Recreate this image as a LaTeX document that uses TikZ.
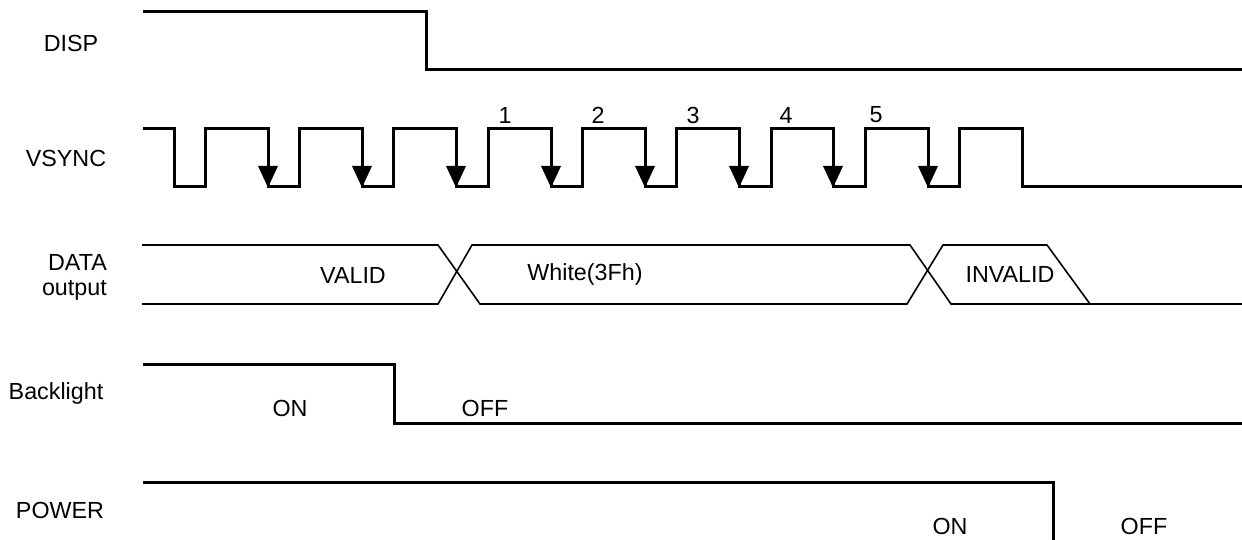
\documentclass[tikz,border=0pt]{standalone}
\usepackage{fontspec}
\setmainfont{Liberation Sans}
\begin{document}
\begin{tikzpicture}[x=1pt,y=-1pt,
  sig/.style={line width=3pt,line join=miter},
  bus/.style={line width=1.6pt,line join=miter},
  lbl/.style={font=\fontsize{23.3}{27}\selectfont,inner sep=0pt},
  arr/.style={fill=black}]
\useasboundingbox (0,0) rectangle (1242,540);
% labels
\node[lbl] (lDISP) at (71,43) {DISP};
\node[lbl] (lVSYNC) at (66,158) {VSYNC};
\node[lbl,anchor=east] (lDATA) at (107,262) {DATA};
\node[lbl,anchor=east] (lOUT) at (107,290) {output};
\node[lbl] (lBL) at (56,393) {Backlight};
\node[lbl] (lPOW) at (60,510) {POWER};
% DISP
\draw[sig] (143,11.5) -| (426,70) -- (1242,70);
% VSYNC
\draw[sig] (143,129) -| (174,187) -| (205,129) -| (268,187) -| (299,129)
  -| (362,187) -| (393,129) -| (456,187) -| (488,129) -| (551,187)
  -| (582,129) -| (645,187) -| (676,129) -| (739,187) -| (771,129)
  -| (833,187) -| (865,129) -| (928,187) -| (959,129) -| (1022,187) -- (1242,187);
\foreach \x in {268,362,456,551,645,739,833,928}
  \fill[arr] (\x-10,166) -- (\x+10,166) -- (\x,187.5) -- cycle;
\node[lbl] (n1) at (505,115) {1};
\node[lbl] (n2) at (598,115) {2};
\node[lbl] (n3) at (693,115) {3};
\node[lbl] (n4) at (786,115) {4};
\node[lbl] (n5) at (876,115) {5};
% DATA
\draw[bus] (142,245) -- (438,245) -- (480,304) -- (907,304) -- (943,245) -- (1047,245) -- (1090,304);
\draw[bus] (142,304) -- (438,304) -- (472,245) -- (910,245) -- (951,304) -- (1242,304);
\node[lbl] (tVALID) at (353,275) {VALID};
\node[lbl] (tWHITE) at (585,274) {White(3Fh)};
\node[lbl] (tINV) at (1010,274) {INVALID};
% Backlight
\draw[sig] (143,364) -| (394,423) -- (1242,423);
\node[lbl] (tBLON) at (290,408) {ON};
\node[lbl] (tBLOFF) at (485,408) {OFF};
% POWER
\draw[sig] (143,482) -| (1053,541);
\node[lbl] (tPON) at (950,526) {ON};
\node[lbl] (tPOFF) at (1144,526) {OFF};
\end{tikzpicture}
\end{document}
